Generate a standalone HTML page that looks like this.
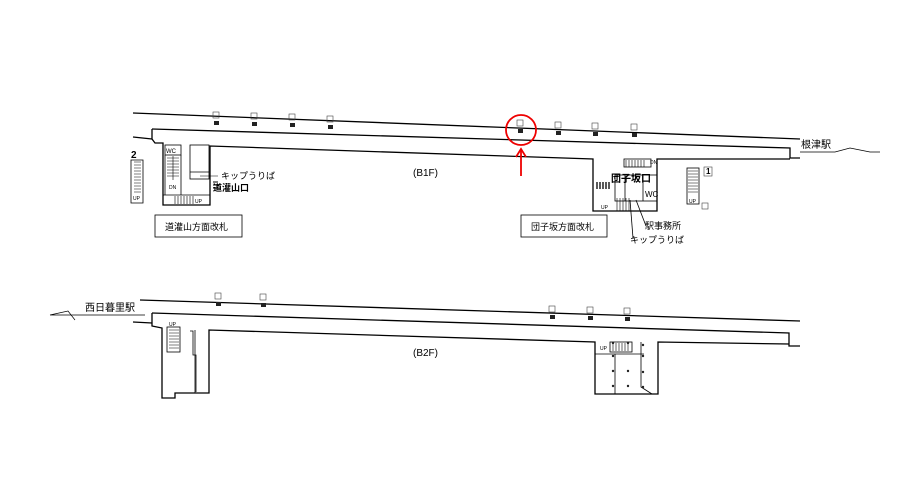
<!DOCTYPE html>
<html><head><meta charset="utf-8"><style>
html,body{margin:0;padding:0;background:#fff;width:919px;height:491px;overflow:hidden}
svg{display:block}
text{font-family:"Liberation Sans","Noto Sans CJK JP",sans-serif;fill:#000}
</style></head><body>
<svg width="919" height="491" viewBox="0 0 919 491">
<g fill="none" stroke="#000" stroke-width="1.3">
<!-- B1F -->
<line x1="133" y1="113" x2="800" y2="139"/>
<line x1="133" y1="137" x2="152" y2="139"/>
<path d="M152,129 L790,148 L790,158 L800,158"/>
<path d="M152,129 L152,139 L155,143 L163,143 L163,205 L210,205 L210,146 L593,159 L593,211 L657,211 L657,159 L790,159"/>
<!-- left block inner -->
<rect x="165" y="145" width="16" height="10" stroke-width="0.8"/>
<rect x="190" y="145" width="19" height="34" stroke-width="0.8"/>
<line x1="190" y1="172" x2="209" y2="172" stroke-width="0.8"/>
<line x1="165" y1="155" x2="165" y2="195" stroke-width="0.8"/>
<line x1="181" y1="155" x2="181" y2="195" stroke-width="0.8"/>
<line x1="163" y1="195" x2="210" y2="195" stroke-width="0.8"/>
<!-- stair 2 -->
<path d="M131,160 L143,160 L143,203 L131,203 Z" stroke-width="0.8"/>
<!-- right block inner -->
<rect x="615" y="175" width="42" height="26" stroke-width="0.8"/>
<line x1="625" y1="175" x2="625" y2="201" stroke-width="0.8"/>
<line x1="643" y1="175" x2="643" y2="201" stroke-width="0.8"/>
<rect x="624" y="159" width="27" height="8" stroke-width="0.8"/>
<rect x="687" y="168" width="12" height="36" stroke-width="0.8"/>
<line x1="630" y1="200" x2="633" y2="238" stroke-width="0.8"/>
<line x1="636" y1="200" x2="646" y2="226" stroke-width="0.8"/>
<!-- labels boxes -->
<rect x="155" y="215" width="87" height="22" stroke-width="0.8"/>
<rect x="521" y="215" width="86" height="22" stroke-width="0.8"/>
<!-- station side lines -->
<path d="M800,152 L835,152 L850,148 L870,152 L880,152" stroke-width="0.7"/>
<!-- B2F -->
<line x1="140" y1="300" x2="800" y2="321"/>
<path d="M50,315 L68,311 L75,320 M50,315 L145,315" stroke-width="0.7"/>
<line x1="133" y1="322" x2="152" y2="323"/>
<path d="M152,313 L789,333 L789,346 L800,346"/>
<path d="M152,313 L152,326 L162,328 L162,398 L175,398 L175,393 L209,393 L209,330 L595,342 L595,394 L658,394 L658,342 L789,344"/>
<rect x="167" y="327" width="13" height="25" stroke-width="0.8"/>
<path d="M190,331 L193,331 L193,355 L196,355 L196,392" stroke-width="0.8"/>
<line x1="195" y1="330" x2="195" y2="393" stroke-width="0.8"/>
<rect x="610" y="342" width="22" height="10" stroke-width="0.8"/>
<line x1="595" y1="354" x2="644" y2="354" stroke-width="0.8"/>
<line x1="615" y1="354" x2="615" y2="394" stroke-width="0.8"/>
<path d="M641,342 L641,387 L652,394" stroke-width="0.8"/>
</g>
<!-- stair hatching -->
<g stroke="#000" stroke-width="0.6">
<path d="M134,162 H141 M134,165 H141 M134,168 H141 M134,171 H141 M134,174 H141 M134,177 H141 M134,180 H141 M134,183 H141 M134,186 H141 M134,189 H141 M134,192 H141"/>
<path d="M167,158 H179 M167,161 H179 M167,164 H179 M167,167 H179 M167,170 H179 M167,173 H179 M167,176 H179 M173,156 V180"/>
<path d="M175,196 V204 M178,196 V204 M181,196 V204 M184,196 V204 M187,196 V204 M190,196 V204 M193,196 V204"/>
<path d="M626,160 V167 M629,160 V167 M632,160 V167 M635,160 V167 M638,160 V167 M641,160 V167 M644,160 V167"/>
<path d="M688,171 H698 M688,174 H698 M688,177 H698 M688,180 H698 M688,183 H698 M688,186 H698 M688,189 H698 M688,192 H698"/>
<path d="M617,198 V211 M620,198 V211 M623,198 V211 M626,198 V211 M629,198 V211"/>
<path d="M169,330 H179 M169,333 H179 M169,336 H179 M169,339 H179 M169,342 H179 M169,345 H179 M169,348 H179"/>
<path d="M613,343 V351 M616,343 V351 M619,343 V351 M622,343 V351 M625,343 V351 M628,343 V351"/>
<path d="M597,182 V189 M600,182 V189 M603,182 V189 M606,182 V189 M609,182 V189" stroke-width="1.3"/>
<path d="M213,182 H218 M213,185 H218 M213,188 H218" stroke-width="1"/>
<line x1="200" y1="176" x2="218" y2="176"/>
</g>
<!-- markers -->
<g fill="#222">
<rect x="214" y="121" width="5" height="4"/><rect x="252" y="122" width="5" height="4"/><rect x="290" y="123" width="5" height="4"/><rect x="328" y="125" width="5" height="4"/>
<rect x="518" y="129" width="5" height="4"/><rect x="556" y="131" width="5" height="4"/><rect x="593" y="132" width="5" height="4"/><rect x="632" y="133" width="5" height="4"/>
<rect x="216" y="302" width="5" height="4"/><rect x="261" y="303" width="5" height="4"/><rect x="550" y="315" width="5" height="4"/><rect x="588" y="316" width="5" height="4"/><rect x="625" y="317" width="5" height="4"/>
<circle cx="613" cy="343" r="1.2"/><circle cx="628" cy="343" r="1.2"/><circle cx="643" cy="345" r="1.2"/><circle cx="613" cy="356" r="1.2"/><circle cx="643" cy="356" r="1.2"/><circle cx="613" cy="371" r="1.2"/><circle cx="628" cy="371" r="1.2"/><circle cx="643" cy="372" r="1.2"/><circle cx="613" cy="386" r="1.2"/><circle cx="628" cy="386" r="1.2"/><circle cx="643" cy="387" r="1.2"/>
</g>
<g fill="none" stroke="#444" stroke-width="0.6">
<rect x="213" y="112" width="6" height="6"/><rect x="251" y="113" width="6" height="6"/><rect x="289" y="114" width="6" height="6"/><rect x="327" y="116" width="6" height="6"/>
<rect x="517" y="120" width="6" height="6"/><rect x="555" y="122" width="6" height="6"/><rect x="592" y="123" width="6" height="6"/><rect x="631" y="124" width="6" height="6"/>
<rect x="215" y="293" width="6" height="6"/><rect x="260" y="294" width="6" height="6"/><rect x="549" y="306" width="6" height="6"/><rect x="587" y="307" width="6" height="6"/><rect x="624" y="308" width="6" height="6"/>
<rect x="704" y="167" width="8" height="9"/><rect x="702" y="203" width="6" height="6"/>
</g>
<!-- red -->
<circle cx="521" cy="130" r="15" fill="none" stroke="#e00" stroke-width="1.8"/>
<line x1="521" y1="176" x2="521" y2="150" stroke="#e00" stroke-width="1.8"/>
<path d="M516,157 L521,149 L526,157" fill="none" stroke="#e00" stroke-width="1.8"/>
<!-- texts -->
<g font-size="8">
<text x="131" y="158" font-weight="bold" font-size="10">2</text>
<text x="133" y="200" font-size="5">UP</text>
<text x="166" y="153" font-size="6">WC</text>
<text x="169" y="189" font-size="5">DN</text>
<text x="195" y="203" font-size="5">UP</text>
<text x="221" y="179" font-size="9">キップうりば</text>
<text x="213" y="191" font-size="9" font-weight="bold">道灌山口</text>
<text x="165" y="230" font-size="9">道灌山方面改札</text>
<text x="413" y="176" font-size="10">(B1F)</text>
<text x="611" y="182" font-size="10" font-weight="bold">団子坂口</text>
<text x="645" y="197" font-size="8">WC</text>
<text x="601" y="209" font-size="5">UP</text>
<text x="650" y="164" font-size="5">DN</text>
<text x="706" y="174" font-size="8" font-weight="bold">1</text>
<text x="689" y="203" font-size="5">UP</text>
<text x="645" y="229" font-size="9">駅事務所</text>
<text x="630" y="243" font-size="9">キップうりば</text>
<text x="531" y="230" font-size="9">団子坂方面改札</text>
<text x="801" y="148" font-size="10">根津駅</text>
<text x="85" y="311" font-size="10">西日暮里駅</text>
<text x="169" y="326" font-size="5">UP</text>
<text x="600" y="350" font-size="5">UP</text>
<text x="413" y="356" font-size="10">(B2F)</text>
</g>
</svg>
</body></html>
